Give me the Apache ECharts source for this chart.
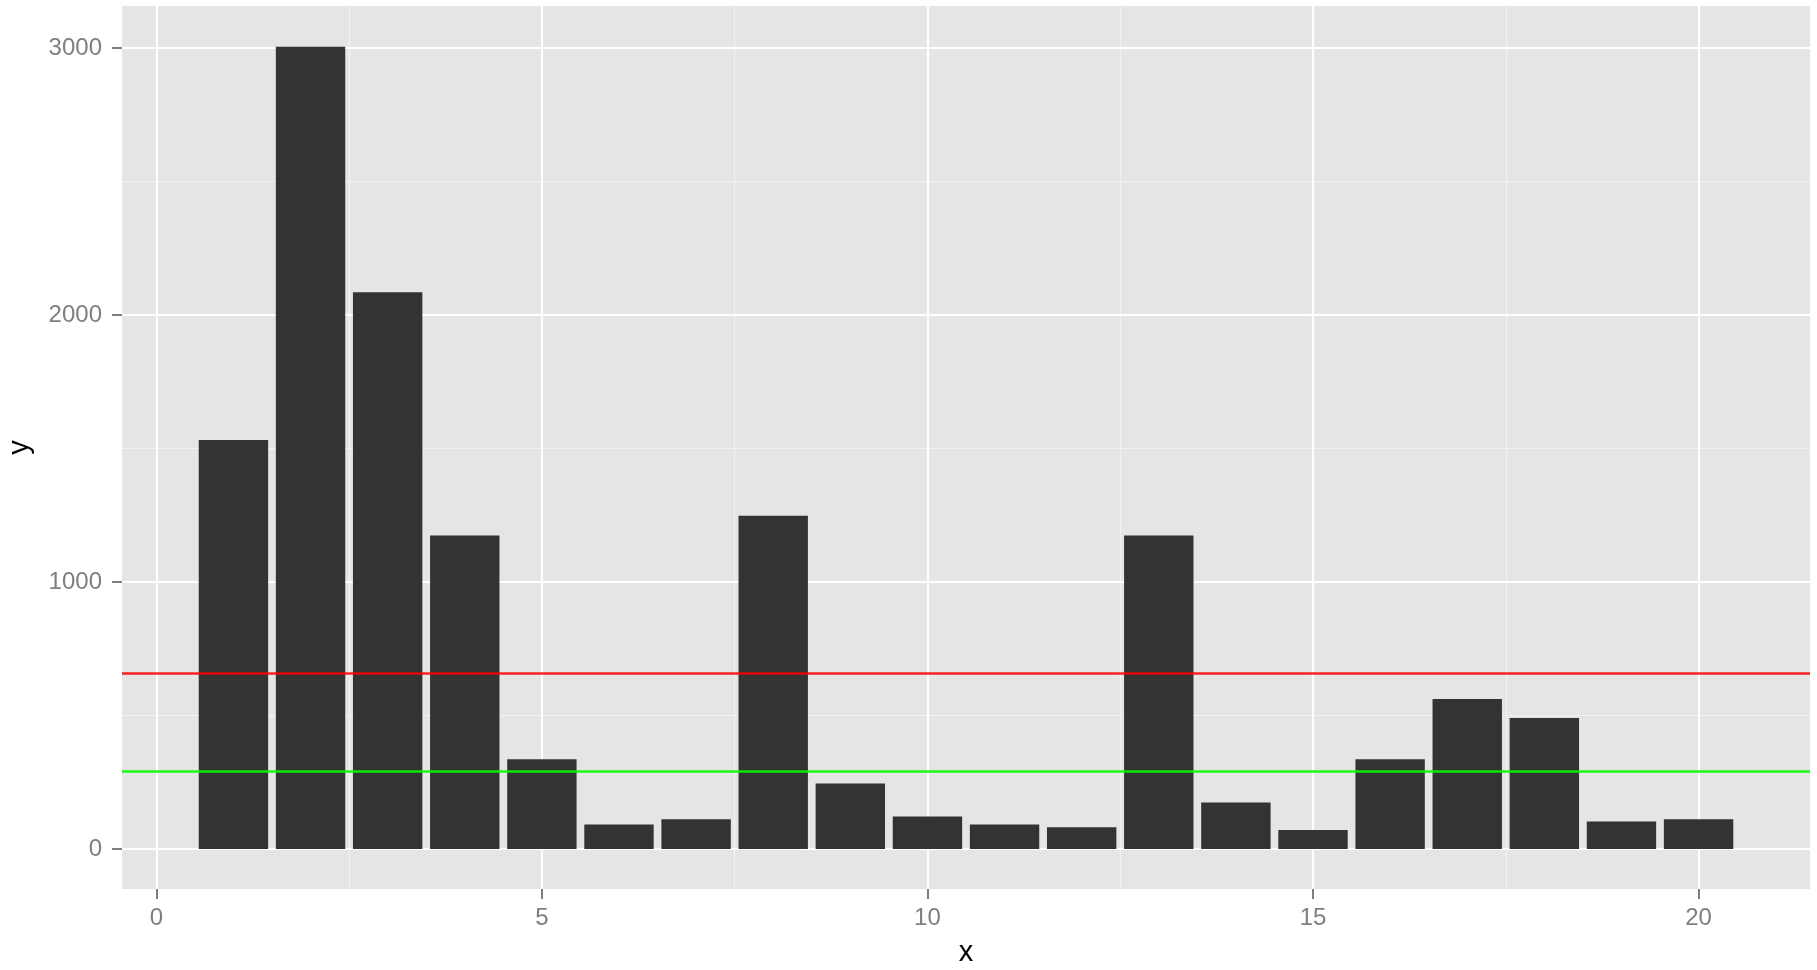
<!DOCTYPE html>
<html>
<head>
<meta charset="utf-8">
<script src="https://cdn.jsdelivr.net/npm/echarts@6/dist/echarts.min.js"></script>
<style>
html,body{margin:0;padding:0;background:#fff;}
#chart{width:1817px;height:970px;}
</style>
</head>
<body>
<div id="chart"></div>
<script>
// ---- data ----
const xValues = [1,2,3,4,5,6,7,8,9,10,11,12,13,14,15,16,17,18,19,20];
const yValues = [1532,3005,2085,1174,336,91,111,1248,245,121,91,81,1174,174,71,336,561,490,103,111];
const redLineY = 657;
const greenLineY = 291;
const xTicks = [0,5,10,15,20];
const xMinorBreaks = [2.5,7.5,12.5,17.5];
const yTicks = [0,1000,2000,3000];
const yMinorBreaks = [500,1500,2500];
const barWidthUnits = 0.9;

// axis limits (ggplot-style 5% expansion)
const xMin = Math.min(...xValues) - barWidthUnits/2;
const xMax = Math.max(...xValues) + barWidthUnits/2;
const xPad = (xMax - xMin) * 0.05;
const yLo = 0, yHi = Math.max(...yValues);
const yPad = (yHi - yLo) * 0.05;

const chart = echarts.init(document.getElementById('chart'), null, {renderer:'canvas'});
const font = "'Liberation Sans', Arial, Helvetica, sans-serif";

const gridLines = [];
xMinorBreaks.forEach(v => gridLines.push({xAxis:v, lineStyle:{color:'#F2F2F2', width:1.2, type:'solid'}}));
yMinorBreaks.forEach(v => gridLines.push({yAxis:v, lineStyle:{color:'#F2F2F2', width:1.2, type:'solid'}}));
xTicks.forEach(v => gridLines.push({xAxis:v, lineStyle:{color:'#FFFFFF', width:2.2, type:'solid'}}));
yTicks.forEach(v => gridLines.push({yAxis:v, lineStyle:{color:'#FFFFFF', width:2.2, type:'solid'}}));

const option = {
  animation:false,
  backgroundColor:'#ffffff',
  grid:{left:122, right:7, top:6, bottom:81, show:true, backgroundColor:'#E5E5E5', borderWidth:0, containLabel:false, outerBoundsMode:'none'},
  xAxis:{
    type:'value', min:xMin - xPad, max:xMax + xPad,
    name:'x', nameLocation:'middle', nameGap:49,
    nameTextStyle:{color:'#000', fontSize:29, fontFamily:font},
    axisLine:{show:true, onZero:false, lineStyle:{color:'rgba(0,0,0,0)', width:0}},
    axisTick:{show:true, inside:false, length:10, customValues:xTicks, lineStyle:{color:'#7F7F7F', width:2}},
    axisLabel:{customValues:xTicks, formatter:v=>String(v), color:'#7F7F7F', fontSize:24, fontFamily:font, margin:17},
    splitLine:{show:false}
  },
  yAxis:{
    type:'value', min:yLo - yPad, max:yHi + yPad + 2,
    name:'y', nameLocation:'middle', nameGap:88, nameRotate:90,
    nameTextStyle:{color:'#000', fontSize:29, fontFamily:font},
    axisLine:{show:true, onZero:false, lineStyle:{color:'rgba(0,0,0,0)', width:0}},
    axisTick:{show:true, inside:false, length:10, customValues:yTicks, lineStyle:{color:'#7F7F7F', width:2}},
    axisLabel:{customValues:yTicks, formatter:v=>String(v), color:'#7F7F7F', fontSize:24, fontFamily:font, margin:20},
    splitLine:{show:false}
  },
  series:[
    {
      type:'line', data:[], z:1, silent:true,
      markLine:{z:1, silent:true, symbol:'none', label:{show:false}, animation:false, data:gridLines}
    },
    {
      type:'custom', z:3,
      data:xValues.map((x,i)=>[x, yValues[i]]),
      encode:{x:0, y:1},
      renderItem:function(params, api){
        const x = api.value(0), y = api.value(1);
        const p1 = api.coord([x - barWidthUnits/2, y]);
        const p2 = api.coord([x + barWidthUnits/2, 0]);
        return {type:'rect', shape:{x:p1[0], y:p1[1], width:p2[0]-p1[0], height:p2[1]-p1[1]}, style:{fill:'#333333'}};
      }
    },
    {
      type:'line', data:[], z:6, silent:true,
      markLine:{z:6, silent:true, symbol:'none', label:{show:false}, animation:false,
        data:[
          {yAxis:redLineY, lineStyle:{color:'#FF0000', width:2.5, type:'solid', opacity:0.85}},
          {yAxis:greenLineY, lineStyle:{color:'#00FF00', width:2.5, type:'solid', opacity:0.9}}
        ]}
    }
  ]
};
chart.setOption(option);
</script>
</body>
</html>
